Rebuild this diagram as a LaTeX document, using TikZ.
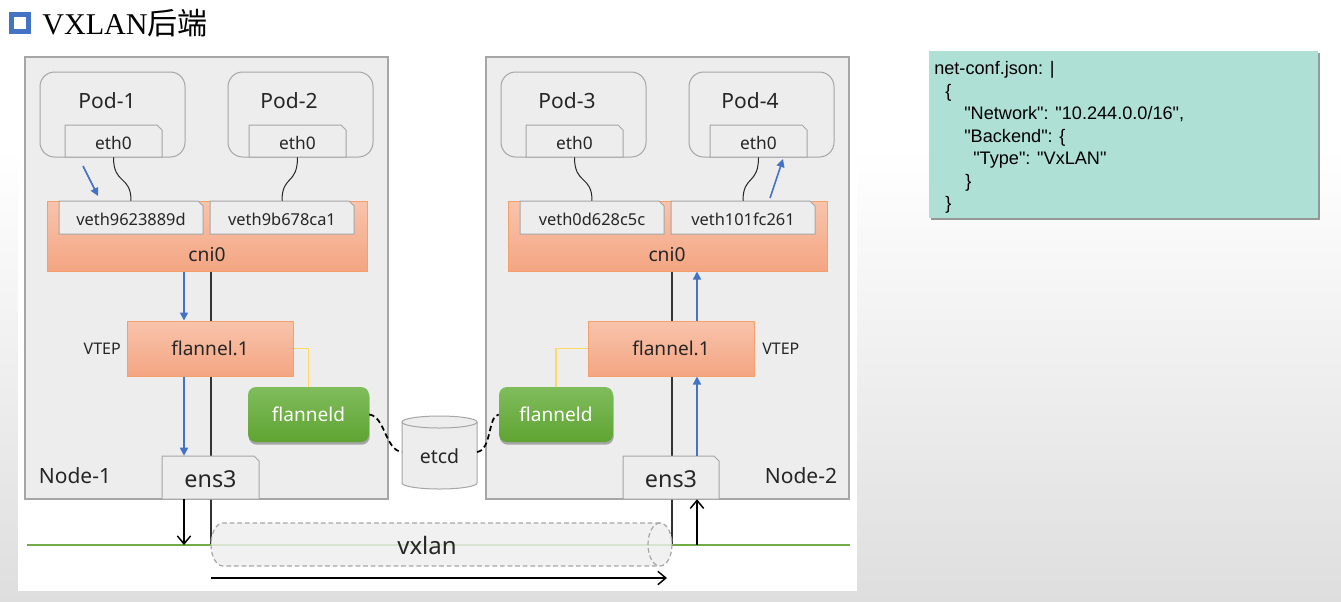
\documentclass[tikz,border=0pt]{standalone}
\usepackage{fontspec}
\setmainfont{Noto Sans}
\newfontfamily\titlefont{Liberation Serif}
\newfontfamily\cjkfont{Noto Sans CJK SC}
\newfontfamily\jsonfont{Liberation Sans}
\usetikzlibrary{fit,arrows.meta,shadows,calc}
\definecolor{nodefill}{HTML}{EDEDED}
\definecolor{nodeline}{HTML}{A6A6A6}
\definecolor{orangetop}{HTML}{F8C4AC}
\definecolor{orangebot}{HTML}{F4A582}
\definecolor{orangeline}{HTML}{F4A06C}
\definecolor{greentop}{HTML}{80BC5C}
\definecolor{greenbot}{HTML}{5FA432}
\definecolor{blueA}{HTML}{4472C4}
\definecolor{wire}{HTML}{70AD47}
\definecolor{yellowA}{HTML}{FFD966}
\definecolor{jsonfill}{HTML}{AEE0D6}
\definecolor{txt}{HTML}{262626}
\definecolor{bgbot}{HTML}{DEDEDE}
\definecolor{tubefill}{HTML}{EFEFEF}
\newcommand\fs[1]{\fontsize{#1pt}{#1pt}\selectfont}
% tab with cut top-right corner: name, x1, y1, x2, y2, font size, text
\newcommand\mktab[7]{%
  \draw[tabline] (#2,#5) -- (#2,#3) -- (#4-5,#3) -- (#4,#3+5) -- (#4,#5) -- cycle;
  \node[inner sep=0, fit={(#2,#3)(#4,#5)}] (#1) {};
  \node[lbl, font=\fs{#6}, yshift=-1.5pt] (#1t) at (#1) {#7};}
\begin{document}
\begin{tikzpicture}[x=0.75pt,y=-0.75pt,
  nodebox/.style={draw=nodeline, fill=nodefill, line width=0.9pt, inner sep=0},
  podbox/.style={draw=nodeline, fill=nodefill, rounded corners=11pt, line width=0.75pt, inner sep=0},
  tabline/.style={draw=nodeline, fill=nodefill, line width=0.75pt},
  orangebox/.style={draw=orangeline, top color=orangetop, bottom color=orangebot, line width=0.75pt, inner sep=0},
  greenbox/.style={rounded corners=6pt, top color=greentop, bottom color=greenbot, inner sep=0,
     drop shadow={shadow xshift=0.5pt, shadow yshift=-2pt, opacity=0.3, fill=black}},
  bluearrow/.style={draw=blueA, line width=1.2pt, -{Triangle[length=6pt,width=6pt]}},
  blackarrow/.style={draw=black, line width=1.1pt, -{Straight Barb[length=6pt,width=10pt,line width=1.1pt]}},
  lbl/.style={text=txt, inner sep=0},
  wirecurve/.style={draw=black!85, line width=0.75pt},
  dashcurve/.style={draw=black, line width=1.3pt, dash pattern=on 4pt off 2.5pt},
  jline/.style={anchor=base west, inner sep=0, text=black, font=\jsonfont\fs{13.6}}
]
% background
\fill[white] (0,0) rectangle (1341,601);
\shade[top color=white, bottom color=bgbot] (0,150) rectangle (1341,601);
\fill[white] (18,40) rectangle (857,591);
\useasboundingbox (0,0) rectangle (1341,601);

% title
\draw[blueA, line width=3.6pt, fill=white] (11.5,14.5) rectangle (28.5,31.5);
\node[anchor=base west, inner sep=0] (title) at (42,34) {\fs{22.6}\titlefont VXLAN\cjkfont 后端};

% node boxes
\node[nodebox, fit={(25,57)(388,499)}] (n1) {};
\node[nodebox, fit={(486,57)(849,499)}] (n2) {};

% pods
\node[podbox, fit={(40,72)(185,157)}] (p1) {};
\node[podbox, fit={(228,72)(373,157)}] (p2) {};
\node[podbox, fit={(501,72)(646,157)}] (p3) {};
\node[podbox, fit={(689,72)(834,157)}] (p4) {};
\node[lbl, font=\fs{15.75}] (p1t) at (107,101) {Pod-1};
\node[lbl, font=\fs{15.75}] (p2t) at (289,101) {Pod-2};
\node[lbl, font=\fs{15.75}] (p3t) at (567,101) {Pod-3};
\node[lbl, font=\fs{15.75}] (p4t) at (750,101) {Pod-4};
\mktab{e1}{65}{125}{162}{157}{13}{eth0}
\mktab{e2}{249}{125}{346}{157}{13}{eth0}
\mktab{e3}{526}{125}{623}{157}{13}{eth0}
\mktab{e4}{710}{125}{807}{157}{13}{eth0}

% cni0
\node[orangebox, fit={(47,201)(367,271)}] (c1) {};
\node[orangebox, fit={(508,201)(827,271)}] (c2) {};
\node[lbl, font=\fs{14.4}] (c1t) at (207,255) {cni0};
\node[lbl, font=\fs{14.4}] (c2t) at (667,255) {cni0};
\mktab{v1}{59}{201}{203}{234}{12.3}{veth9623889d}
\mktab{v2}{210}{201}{354}{234}{12.3}{veth9b678ca1}
\mktab{v3}{520}{201}{664}{234}{12.3}{veth0d628c5c}
\mktab{v4}{671}{201}{815}{234}{12.3}{veth101fc261}

% pod wires
\draw[wirecurve] (e1.south) .. controls +(0,28) and +(0,-26) .. (v1.north);
\draw[wirecurve] (e2.south) .. controls +(0,28) and +(0,-26) .. (v2.north);
\draw[wirecurve] (e3.south) .. controls +(0,28) and +(0,-26) .. (v3.north);
\draw[wirecurve] (e4.south) .. controls +(0,28) and +(0,-26) .. (v4.north);

% coordinates
\coordinate (k1) at (211,545);
\coordinate (k2) at (672,545);
\coordinate (a1) at (184,545);
\coordinate (a2) at (697,545);
\coordinate (gL) at (27,545);
\coordinate (gR) at (850,545);

% black vertical lines (behind)
\draw[line width=0.8pt, black!80] (c1.south -| k1) -- (k1);
\draw[line width=0.8pt, black!80] (c2.south -| k2) -- (k2);

% flannel.1
\node[orangebox, fit={(127,321)(293,376)}] (f1) {};
\node[orangebox, fit={(588,321)(754,376)}] (f2) {};
\node[lbl, font=\fs{14.3}] (f1t) at (f1) {flannel.1};
\node[lbl, font=\fs{14.3}] (f2t) at (f2) {flannel.1};
\node[lbl, anchor=east, font=\fs{12}] (vt1) at (121,349) {VTEP};
\node[lbl, anchor=west, font=\fs{12}] (vt2) at (762,349) {VTEP};

% flanneld
\node[greenbox, fit={(248,387)(369,442)}] (d1) {};
\node[greenbox, fit={(499,387)(613,442)}] (d2) {};
\node[lbl, text=white, font=\fs{14.3}] (d1t) at (d1) {flanneld};
\node[lbl, text=white, font=\fs{14.3}] (d2t) at (d2) {flanneld};
\draw[yellowA, line width=0.9pt] (f1.east) -| (d1.north);
\draw[yellowA, line width=0.9pt] (f2.west) -| (d2.north);

% ens3
\mktab{s1}{162}{456}{259}{499}{17.5}{ens3}
\mktab{s2}{623}{456}{719}{499}{17.5}{ens3}
\node[lbl, font=\fs{15.75}] (nl1) at (75,476) {Node-1};
\node[lbl, font=\fs{15.75}] (nl2) at (801,476) {Node-2};

% blue arrows
\draw[bluearrow] (c1.south -| a1) -- (f1.north -| a1);
\draw[bluearrow] (f1.south -| a1) -- (s1.north -| a1);
\draw[bluearrow] (s2.north -| a2) -- (f2.south -| a2);
\draw[bluearrow] (f2.north -| a2) -- (c2.south -| a2);
\coordinate (q1s) at (83,166);
\coordinate (q1e) at (98,196);
\coordinate (q2s) at (770,198);
\coordinate (q2e) at (783,159);
\draw[bluearrow] (q1s) -- (q1e);
\draw[bluearrow] (q2s) -- (q2e);

% etcd
\draw[nodeline, fill=nodefill, line width=0.75pt] (402,422) -- (402,483) arc (180:360:28.125pt and 4.5pt) -- (477,422) arc (0:180:28.125pt and 4.5pt) -- cycle;
\draw[nodeline, line width=0.75pt] (402,422) arc (180:360:28.125pt and 4.5pt);
\node[lbl, font=\fs{14.6}] (etcd) at (439.5,456) {etcd};
\coordinate (etL) at (402,452);
\coordinate (etR) at (477,452);
\draw[dashcurve] (d1.east) .. controls +(16,2) and +(-17,-2) .. (etL);
\draw[dashcurve] (etR) .. controls +(15,-2) and +(-11,1) .. (d2.west);

% underlay network
\draw[wire, line width=2.2pt] (gL) -- (gR);
\fill[tubefill, fill opacity=0.82] (223,523) -- (660,523) arc (90:-90:9pt and 16.125pt) -- (223,566) arc (270:90:9pt and 16.125pt) -- cycle;
\draw[nodeline, line width=0.9pt, dash pattern=on 3.5pt off 2.2pt] (660,523) -- (223,523) arc (90:270:9pt and 16.125pt) -- (660,566);
\draw[nodeline, line width=0.9pt, dash pattern=on 3.5pt off 2.2pt] (660,523) arc (90:450:9pt and 16.125pt);
\node[lbl, font=\fs{18}] (vx) at (427,545) {vxlan};

% black arrows
\draw[blackarrow] (s1.south -| a1) -- (a1);
\draw[blackarrow] (a2) -- (s2.south -| a2);
\coordinate (b1) at (211,578);
\coordinate (b2) at (667,578);
\draw[blackarrow] (b1) -- (b2);

% json
\node[fit={(929,51)(1318,218)}, fill=jsonfill, inner sep=0,
  drop shadow={shadow xshift=1.5pt, shadow yshift=-1.5pt, opacity=0.4, fill=black}] (js) {};
\node[jline] (j1) at (934,74.5) {net-conf.json: |};
\node[jline] (j2) at (945,97) {\{};
\node[jline] (j3) at (964,119.5) {"Network": "10.244.0.0/16",};
\node[jline] (j4) at (964,142) {"Backend": \{};
\node[jline] (j5) at (973,164.5) {"Type": "VxLAN"};
\node[jline] (j6) at (965,187) {\}};
\node[jline] (j7) at (945,209.5) {\}};
\end{tikzpicture}
\end{document}
